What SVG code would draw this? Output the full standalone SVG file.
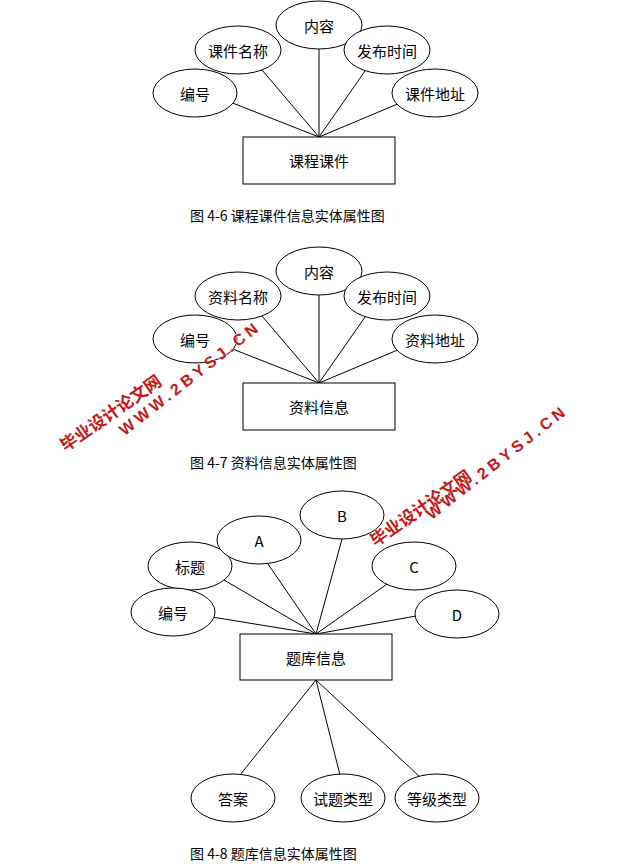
<svg xmlns="http://www.w3.org/2000/svg" width="633" height="867" viewBox="0 0 633 867">
<style>
ellipse,rect{fill:#fff;stroke:#000;stroke-width:1}
line{stroke:#000;stroke-width:1}
text{font-family:"Noto Sans CJK SC","Liberation Serif",serif;font-size:15px;text-anchor:middle;dominant-baseline:central}
.cap{font-size:14px;text-anchor:start}
.wm{fill:#c41818;stroke:#fff;stroke-width:0.6;paint-order:stroke;font-weight:bold;font-size:17px;font-family:"Noto Sans CJK SC","Liberation Sans",sans-serif}
.wm2{letter-spacing:4px;font-family:"Liberation Sans",sans-serif;font-size:16px}
</style>
<rect x="0" y="0" width="633" height="867" style="stroke:none"/>
<g id="connectors">
<line x1="319" y1="137" x2="230" y2="102"/><line x1="319" y1="137" x2="262" y2="70"/><line x1="319" y1="137" x2="319" y2="49"/><line x1="319" y1="137" x2="365" y2="71"/><line x1="319" y1="137" x2="400" y2="103"/>
<line x1="319" y1="383" x2="230" y2="348"/><line x1="319" y1="383" x2="262" y2="316"/><line x1="319" y1="383" x2="319" y2="295"/><line x1="319" y1="383" x2="365" y2="317"/><line x1="319" y1="383" x2="400" y2="349"/>
<line x1="316" y1="634" x2="212" y2="617"/><line x1="316" y1="634" x2="224" y2="580"/><line x1="316" y1="634" x2="268" y2="564"/><line x1="316" y1="634" x2="342" y2="539"/><line x1="316" y1="634" x2="390" y2="582"/><line x1="316" y1="634" x2="416" y2="616"/>
<line x1="316" y1="680" x2="240" y2="775"/><line x1="316" y1="680" x2="340" y2="775"/><line x1="316" y1="680" x2="420" y2="777"/>
</g>
<g id="n1"><ellipse cx="195" cy="93" rx="42" ry="24"/><text x="195" y="93">编号</text></g>
<g id="n2"><ellipse cx="238" cy="50" rx="43" ry="24"/><text x="238" y="50">课件名称</text></g>
<g id="n3"><ellipse cx="319" cy="25" rx="43" ry="24"/><text x="319" y="25">内容</text></g>
<g id="n4"><ellipse cx="387" cy="50" rx="43" ry="24"/><text x="387" y="50">发布时间</text></g>
<g id="n5"><ellipse cx="435" cy="93" rx="43" ry="24"/><text x="435" y="93">课件地址</text></g>
<g id="n6"><rect x="243" y="137" width="152" height="47"/><text x="319" y="160">课程课件</text></g>
<text class="cap" x="190" y="215">图 4-6 课程课件信息实体属性图</text>
<g id="m1"><ellipse cx="195" cy="339" rx="42" ry="24"/><text x="195" y="339">编号</text></g>
<g id="m2"><ellipse cx="238" cy="296" rx="43" ry="24"/><text x="238" y="296">资料名称</text></g>
<g id="m3"><ellipse cx="319" cy="271" rx="43" ry="24"/><text x="319" y="271">内容</text></g>
<g id="m4"><ellipse cx="387" cy="296" rx="43" ry="24"/><text x="387" y="296">发布时间</text></g>
<g id="m5"><ellipse cx="435" cy="339" rx="43" ry="24"/><text x="435" y="339">资料地址</text></g>
<g id="m6"><rect x="243" y="383" width="152" height="47"/><text x="319" y="406">资料信息</text></g>
<text class="cap" x="190" y="462">图 4-7 资料信息实体属性图</text>
<g id="k1"><ellipse cx="190" cy="566" rx="42" ry="24"/><text x="190" y="566">标题</text></g>
<g id="k2"><ellipse cx="259" cy="540" rx="42" ry="24"/><text x="259" y="540">A</text></g>
<g id="k3"><ellipse cx="342" cy="515" rx="42" ry="24"/><text x="342" y="515">B</text></g>
<g id="k4"><ellipse cx="414" cy="566" rx="42" ry="24"/><text x="414" y="566">C</text></g>
<g id="k5"><ellipse cx="173" cy="612" rx="42" ry="24"/><text x="173" y="612">编号</text></g>
<g id="k6"><ellipse cx="457" cy="614" rx="42" ry="24"/><text x="457" y="614">D</text></g>
<g id="k7"><rect x="240" y="634" width="152" height="46"/><text x="316" y="657">题库信息</text></g>
<g id="k8"><ellipse cx="233" cy="798" rx="42" ry="24"/><text x="233" y="798">答案</text></g>
<g id="k9"><ellipse cx="343" cy="798" rx="42" ry="24"/><text x="343" y="798">试题类型</text></g>
<g id="k10"><ellipse cx="437" cy="798" rx="42" ry="24"/><text x="437" y="798">等级类型</text></g>
<text class="cap" x="190" y="853">图 4-8 题库信息实体属性图</text>
<text class="wm" transform="translate(110,412) rotate(-35)">毕业设计论文网</text>
<text class="wm wm2" transform="translate(190,378) rotate(-38)">WWW.2BYSJ.CN</text>
<text class="wm" transform="translate(420,507) rotate(-35)">毕业设计论文网</text>
<text class="wm wm2" transform="translate(497,462) rotate(-38)">WWW.2BYSJ.CN</text>
</svg>
